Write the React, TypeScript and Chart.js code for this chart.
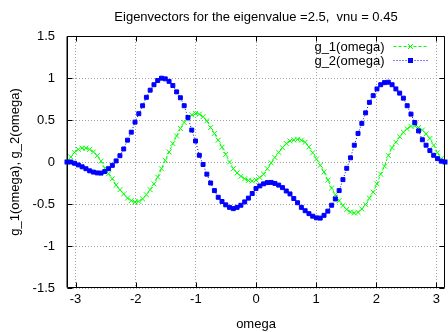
import React, { useEffect, useRef } from "react";
import { Chart, registerables } from "chart.js";

Chart.register(...registerables);

const TITLE = "Eigenvectors for the eigenvalue =2.5,  vnu = 0.45";
const X_LABEL = "omega";
const Y_LABEL = "g_1(omega), g_2(omega)";
const SERIES_NAMES = ["g_1(omega)", "g_2(omega)"];
const X_TICKS = [-3, -2, -1, 0, 1, 2, 3];
const Y_TICKS = [-1.5, -1, -0.5, 0, 0.5, 1, 1.5];
const X_MIN = -3.1416;
const X_MAX = 3.1416;
const Y_MIN = -1.5;
const Y_MAX = 1.5;

const OMEGA = [
  -3.142, -3.079, -3.016, -2.953, -2.89, -2.827, -2.765, -2.702, -2.639, -2.576,
  -2.513, -2.45, -2.388, -2.325, -2.262, -2.199, -2.136, -2.073, -2.011, -1.948,
  -1.885, -1.822, -1.759, -1.696, -1.634, -1.571, -1.508, -1.445, -1.382, -1.319,
  -1.257, -1.194, -1.131, -1.068, -1.005, -0.942, -0.88, -0.817, -0.754, -0.691,
  -0.628, -0.565, -0.503, -0.44, -0.377, -0.314, -0.251, -0.188, -0.126, -0.063,
  0, 0.063, 0.126, 0.188, 0.251, 0.314, 0.377, 0.44, 0.503, 0.565,
  0.628, 0.691, 0.754, 0.817, 0.88, 0.942, 1.005, 1.068, 1.131, 1.194,
  1.257, 1.319, 1.382, 1.445, 1.508, 1.571, 1.634, 1.696, 1.759, 1.822,
  1.885, 1.948, 2.011, 2.073, 2.136, 2.199, 2.262, 2.325, 2.388, 2.45,
  2.513, 2.576, 2.639, 2.702, 2.765, 2.827, 2.89, 2.953, 3.016, 3.079,
  3.142,
];

const G1 = [
  0, 0.06, 0.115, 0.15, 0.165, 0.165, 0.15, 0.12, 0.075, 0.01,
  -0.075, -0.14, -0.2, -0.275, -0.33, -0.38, -0.43, -0.46, -0.477, -0.47,
  -0.44, -0.39, -0.33, -0.26, -0.18, -0.08, 0.02, 0.12, 0.22, 0.31,
  0.4, 0.47, 0.52, 0.56, 0.578, 0.57, 0.54, 0.49, 0.41, 0.34,
  0.26, 0.175, 0.09, 0.0, -0.08, -0.13, -0.17, -0.2, -0.22, -0.225,
  -0.215, -0.185, -0.145, -0.08, -0.01, 0.053, 0.115, 0.17, 0.22, 0.25,
  0.262, 0.27, 0.26, 0.235, 0.18, 0.11, 0.035, -0.04, -0.12, -0.215,
  -0.31, -0.39, -0.46, -0.52, -0.565, -0.595, -0.607, -0.6, -0.56, -0.505,
  -0.43, -0.36, -0.26, -0.145, -0.05, 0.077, 0.17, 0.235, 0.3, 0.355,
  0.395, 0.425, 0.432, 0.41, 0.38, 0.335, 0.28, 0.2, 0.11, 0.04,
  0,
];

const G2 = [
  0, 0.0, -0.015, -0.035, -0.057, -0.08, -0.105, -0.12, -0.13, -0.132,
  -0.113, -0.08, -0.04, 0.013, 0.075, 0.155, 0.26, 0.355, 0.475, 0.575,
  0.67, 0.77, 0.855, 0.92, 0.97, 0.998, 0.99, 0.96, 0.91, 0.835,
  0.765, 0.67, 0.53, 0.38, 0.25, 0.08, -0.03, -0.145, -0.25, -0.34,
  -0.42, -0.47, -0.51, -0.54, -0.555, -0.54, -0.515, -0.475, -0.43, -0.375,
  -0.315, -0.285, -0.26, -0.245, -0.243, -0.255, -0.275, -0.305, -0.345, -0.38,
  -0.435, -0.485, -0.54, -0.58, -0.615, -0.645, -0.665, -0.668, -0.635, -0.585,
  -0.515, -0.44, -0.34, -0.21, -0.075, 0.05, 0.2, 0.34, 0.46, 0.585,
  0.71, 0.79, 0.87, 0.92, 0.945, 0.95, 0.92, 0.87, 0.82, 0.76,
  0.67, 0.57, 0.47, 0.37, 0.265, 0.2, 0.136, 0.08, 0.04, 0.01,
  0,
];

const GREEN = "#00ff00";
const BLUE = "#0000ff";
const FONT = { family: '"Liberation Sans", Arial, sans-serif', size: 13 };
const FONT_CSS = '13px "Liberation Sans", Arial, sans-serif';

const decorPlugin = {
  id: "decor",
  beforeDatasetsDraw(chart: any) {
    const { ctx, chartArea: a, scales } = chart;
    const xs = scales.x;
    const ys = scales.y;
    ctx.save();
    ctx.strokeStyle = "#000";
    ctx.lineWidth = 1;
    ctx.setLineDash([]);
    const L = Math.round(a.left) + 0.5;
    const R = Math.round(a.right) - 0.5;
    const T = Math.round(a.top) + 0.5;
    const B = Math.round(a.bottom) - 0.5;
    ctx.beginPath();
    ctx.moveTo(L, T);
    ctx.lineTo(R, T);
    ctx.lineTo(R, B);
    ctx.lineTo(L, B);
    ctx.closePath();
    ctx.stroke();
    ctx.beginPath();
    ctx.moveTo(L - 0.5, T);
    ctx.lineTo(L - 0.5, B);
    ctx.stroke();
    // inward ticks
    ctx.beginPath();
    for (const v of Y_TICKS) {
      const y = Math.round(ys.getPixelForValue(v)) + 0.5;
      ctx.moveTo(L, y);
      ctx.lineTo(L + 5, y);
      ctx.moveTo(R, y);
      ctx.lineTo(R - 5, y);
    }
    for (const v of X_TICKS) {
      const x = Math.round(xs.getPixelForValue(v)) + 0.5;
      ctx.moveTo(x, B);
      ctx.lineTo(x, B - 5);
      ctx.moveTo(x, T);
      ctx.lineTo(x, T + 5);
    }
    ctx.stroke();
    ctx.restore();
  },
  afterDraw(chart: any) {
    const { ctx, chartArea: a } = chart;
    ctx.save();
    ctx.fillStyle = "#000";
    ctx.font = FONT_CSS;
    ctx.textAlign = "center";
    ctx.textBaseline = "alphabetic";
    ctx.fillText(TITLE, (a.left + a.right) / 2, 21);

    // legend
    const colors = [GREEN, BLUE];
    const dashes = [[3, 2], [1, 2]];
    for (let i = 0; i < SERIES_NAMES.length; i++) {
      const y = a.top + 10 + i * 14;
      ctx.fillStyle = "#000";
      ctx.textAlign = "right";
      ctx.textBaseline = "middle";
      ctx.fillText(SERIES_NAMES[i], a.right - 60.5, y + 1);
      ctx.strokeStyle = colors[i];
      ctx.lineWidth = 1;
      ctx.setLineDash(dashes[i]);
      ctx.beginPath();
      ctx.moveTo(a.right - 51.5, Math.round(y) + 0.5);
      ctx.lineTo(a.right - 17.5, Math.round(y) + 0.5);
      ctx.stroke();
      ctx.setLineDash([]);
      const mx = a.right - 34.5;
      const my = Math.round(y) + 0.5;
      if (i === 0) {
        ctx.beginPath();
        ctx.moveTo(mx - 2.5, my - 2.5);
        ctx.lineTo(mx + 2.5, my + 2.5);
        ctx.moveTo(mx - 2.5, my + 2.5);
        ctx.lineTo(mx + 2.5, my - 2.5);
        ctx.stroke();
      } else {
        ctx.fillStyle = BLUE;
        ctx.fillRect(mx - 2.5, my - 2.5, 5, 5);
      }
    }
    ctx.restore();
  },
};

export default function App() {
  const canvasRef = useRef<HTMLCanvasElement | null>(null);

  useEffect(() => {
    const canvas = canvasRef.current;
    if (!canvas) return;
    const chart = new Chart(canvas, {
      type: "line",
      data: {
        datasets: [
          {
            label: SERIES_NAMES[0],
            data: OMEGA.map((x, i) => ({ x, y: G1[i] })),
            borderColor: GREEN,
            borderWidth: 1,
            borderDash: [3, 2],
            pointStyle: "crossRot",
            pointRadius: 3.5,
            pointBorderColor: GREEN,
            pointBackgroundColor: GREEN,
            pointBorderWidth: 1,
            tension: 0,
            fill: false,
            order: 1,
            clip: false,
          },
          {
            label: SERIES_NAMES[1],
            data: OMEGA.map((x, i) => ({ x, y: G2[i] })),
            borderColor: BLUE,
            borderWidth: 1,
            borderDash: [1, 2],
            pointStyle: "rect",
            pointRadius: 2.8,
            pointBorderColor: BLUE,
            pointBackgroundColor: BLUE,
            pointBorderWidth: 1,
            tension: 0,
            fill: false,
            order: 0,
            clip: false,
          },
        ],
      },
      options: {
        animation: false,
        responsive: false,
        devicePixelRatio: 1,
        layout: { padding: { top: 36, left: 0, right: 0, bottom: 0 } },
        plugins: {
          legend: { display: false },
          title: { display: false },
          tooltip: { enabled: false },
        },
        scales: {
          x: {
            type: "linear",
            min: X_MIN,
            max: X_MAX,
            afterBuildTicks: (s: any) => {
              s.ticks = X_TICKS.map((v) => ({ value: v }));
            },
            afterFit: (s: any) => {
              s.height = 44;
            },
            ticks: {
              padding: 4,
              color: "#000",
              font: FONT,
              maxRotation: 0,
              autoSkip: false,
              callback: (v: any) => String(v),
            },
            grid: { color: "#a0a0a0", lineWidth: 1, drawTicks: false },
            border: { display: false, dash: [1, 2] },
            title: {
              display: true,
              text: X_LABEL,
              color: "#000",
              font: FONT,
              padding: { top: 5, bottom: 0 },
            },
          },
          y: {
            type: "linear",
            min: Y_MIN,
            max: Y_MAX,
            afterBuildTicks: (s: any) => {
              s.ticks = Y_TICKS.map((v) => ({ value: v }));
            },
            afterFit: (s: any) => {
              s.width = 67;
            },
            ticks: {
              padding: 12,
              color: "#000",
              font: FONT,
              autoSkip: false,
              callback: (v: any) => String(v),
            },
            grid: { color: "#a0a0a0", lineWidth: 1, drawTicks: false },
            border: { display: false, dash: [1, 2] },
            title: {
              display: true,
              text: Y_LABEL,
              color: "#000",
              font: FONT,
              padding: { top: 8, bottom: 0 },
            },
          },
        },
      },
      plugins: [decorPlugin],
    } as any);
    return () => chart.destroy();
  }, []);

  return (
    <div>
      <canvas
        ref={canvasRef}
        width={450}
        height={332}
        style={{ position: "fixed", left: 0, top: 0, background: "#fff" }}
      />
    </div>
  );
}
